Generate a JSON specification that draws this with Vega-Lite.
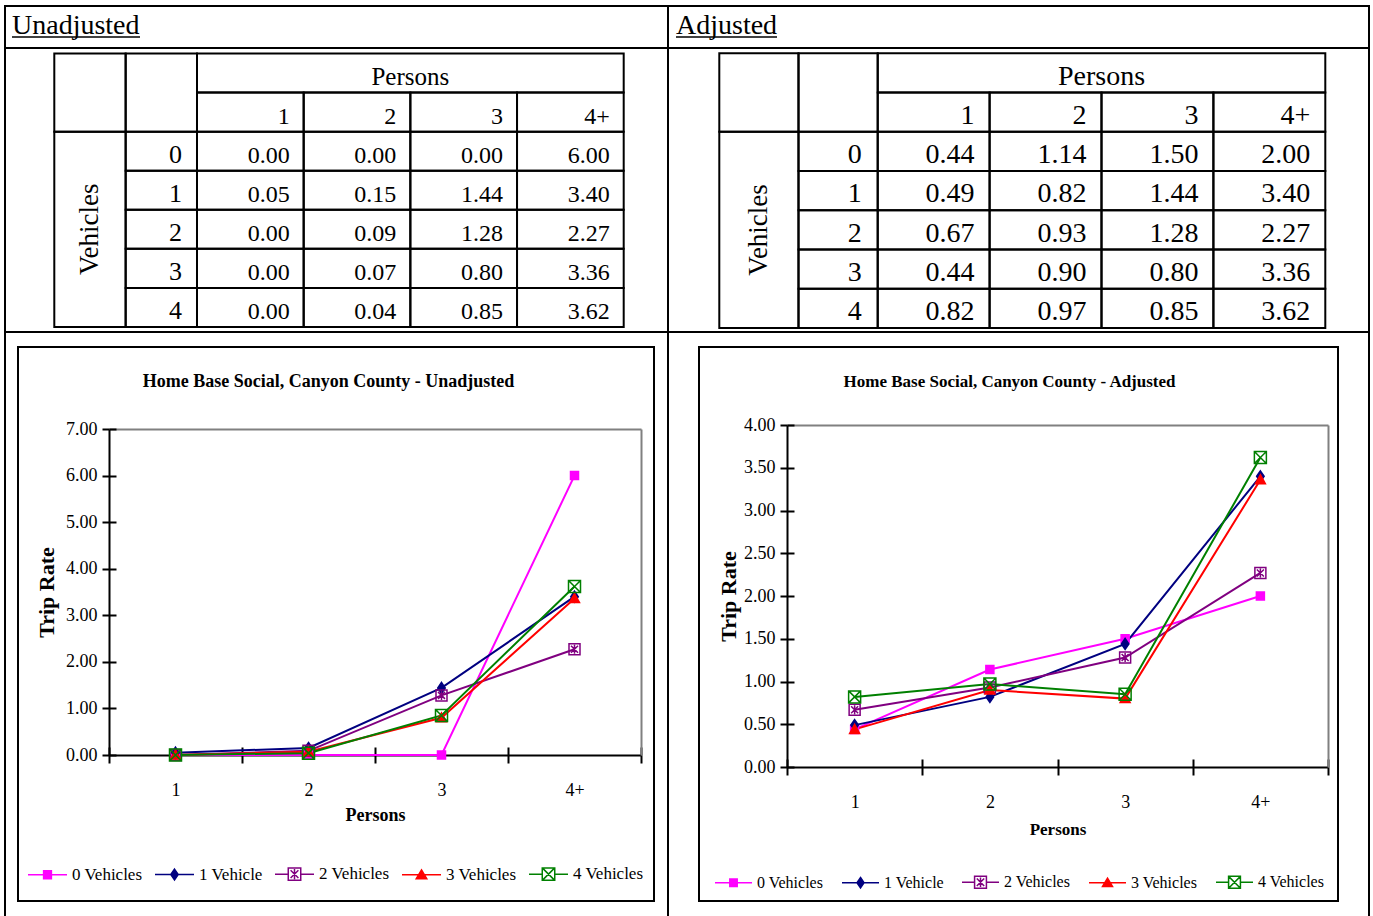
{
  "$schema": "https://vega.github.io/schema/vega-lite/v6.json",
  "padding": {"left": 4, "top": 5, "right": 0, "bottom": 0},
  "background": "white",
  "config": {
    "font": "Liberation Serif",
    "view": {"stroke": null},
    "axis": {"grid": false, "labelColor": "black", "titleColor": "black", "labelFont": "Liberation Serif", "titleFont": "Liberation Serif"},
    "legend": {"labelColor": "black", "labelFont": "Liberation Serif"},
    "title": {"color": "black", "font": "Liberation Serif"}
  },
  "datasets": {
    "rates": [
      {"table": "Unadjusted", "vehicles": "0", "series": "0 Vehicles", "persons": "1", "rate": 0.00},
      {"table": "Unadjusted", "vehicles": "0", "series": "0 Vehicles", "persons": "2", "rate": 0.00},
      {"table": "Unadjusted", "vehicles": "0", "series": "0 Vehicles", "persons": "3", "rate": 0.00},
      {"table": "Unadjusted", "vehicles": "0", "series": "0 Vehicles", "persons": "4+", "rate": 6.00},
      {"table": "Unadjusted", "vehicles": "1", "series": "1 Vehicle", "persons": "1", "rate": 0.05},
      {"table": "Unadjusted", "vehicles": "1", "series": "1 Vehicle", "persons": "2", "rate": 0.15},
      {"table": "Unadjusted", "vehicles": "1", "series": "1 Vehicle", "persons": "3", "rate": 1.44},
      {"table": "Unadjusted", "vehicles": "1", "series": "1 Vehicle", "persons": "4+", "rate": 3.40},
      {"table": "Unadjusted", "vehicles": "2", "series": "2 Vehicles", "persons": "1", "rate": 0.00},
      {"table": "Unadjusted", "vehicles": "2", "series": "2 Vehicles", "persons": "2", "rate": 0.09},
      {"table": "Unadjusted", "vehicles": "2", "series": "2 Vehicles", "persons": "3", "rate": 1.28},
      {"table": "Unadjusted", "vehicles": "2", "series": "2 Vehicles", "persons": "4+", "rate": 2.27},
      {"table": "Unadjusted", "vehicles": "3", "series": "3 Vehicles", "persons": "1", "rate": 0.00},
      {"table": "Unadjusted", "vehicles": "3", "series": "3 Vehicles", "persons": "2", "rate": 0.07},
      {"table": "Unadjusted", "vehicles": "3", "series": "3 Vehicles", "persons": "3", "rate": 0.80},
      {"table": "Unadjusted", "vehicles": "3", "series": "3 Vehicles", "persons": "4+", "rate": 3.36},
      {"table": "Unadjusted", "vehicles": "4", "series": "4 Vehicles", "persons": "1", "rate": 0.00},
      {"table": "Unadjusted", "vehicles": "4", "series": "4 Vehicles", "persons": "2", "rate": 0.04},
      {"table": "Unadjusted", "vehicles": "4", "series": "4 Vehicles", "persons": "3", "rate": 0.85},
      {"table": "Unadjusted", "vehicles": "4", "series": "4 Vehicles", "persons": "4+", "rate": 3.62},
      {"table": "Adjusted", "vehicles": "0", "series": "0 Vehicles", "persons": "1", "rate": 0.44},
      {"table": "Adjusted", "vehicles": "0", "series": "0 Vehicles", "persons": "2", "rate": 1.14},
      {"table": "Adjusted", "vehicles": "0", "series": "0 Vehicles", "persons": "3", "rate": 1.50},
      {"table": "Adjusted", "vehicles": "0", "series": "0 Vehicles", "persons": "4+", "rate": 2.00},
      {"table": "Adjusted", "vehicles": "1", "series": "1 Vehicle", "persons": "1", "rate": 0.49},
      {"table": "Adjusted", "vehicles": "1", "series": "1 Vehicle", "persons": "2", "rate": 0.82},
      {"table": "Adjusted", "vehicles": "1", "series": "1 Vehicle", "persons": "3", "rate": 1.44},
      {"table": "Adjusted", "vehicles": "1", "series": "1 Vehicle", "persons": "4+", "rate": 3.40},
      {"table": "Adjusted", "vehicles": "2", "series": "2 Vehicles", "persons": "1", "rate": 0.67},
      {"table": "Adjusted", "vehicles": "2", "series": "2 Vehicles", "persons": "2", "rate": 0.93},
      {"table": "Adjusted", "vehicles": "2", "series": "2 Vehicles", "persons": "3", "rate": 1.28},
      {"table": "Adjusted", "vehicles": "2", "series": "2 Vehicles", "persons": "4+", "rate": 2.27},
      {"table": "Adjusted", "vehicles": "3", "series": "3 Vehicles", "persons": "1", "rate": 0.44},
      {"table": "Adjusted", "vehicles": "3", "series": "3 Vehicles", "persons": "2", "rate": 0.90},
      {"table": "Adjusted", "vehicles": "3", "series": "3 Vehicles", "persons": "3", "rate": 0.80},
      {"table": "Adjusted", "vehicles": "3", "series": "3 Vehicles", "persons": "4+", "rate": 3.36},
      {"table": "Adjusted", "vehicles": "4", "series": "4 Vehicles", "persons": "1", "rate": 0.82},
      {"table": "Adjusted", "vehicles": "4", "series": "4 Vehicles", "persons": "2", "rate": 0.97},
      {"table": "Adjusted", "vehicles": "4", "series": "4 Vehicles", "persons": "3", "rate": 0.85},
      {"table": "Adjusted", "vehicles": "4", "series": "4 Vehicles", "persons": "4+", "rate": 3.62}
    ],
    "persons": [{"persons": "1"}, {"persons": "2"}, {"persons": "3"}, {"persons": "4+"}],
    "vehicles": [{"vehicles": "0"}, {"vehicles": "1"}, {"vehicles": "2"}, {"vehicles": "3"}, {"vehicles": "4"}]
  },
  "columns": 2,
  "spacing": 0,
  "bounds": "flush",
  "align": "each",
  "concat": [
    {
      "width": 663, "height": 42,
      "view": {"stroke": "black", "strokeWidth": 2},
      "data": {"values": [{"label": "Unadjusted"}]},
      "layer": [
        {"mark": {"type": "text", "align": "left", "baseline": "alphabetic", "fontSize": 28, "dy": -3},
         "encoding": {
           "x": {"field": "label", "type": "nominal", "bandPosition": 0, "axis": null, "scale": {"range": [7, 135], "paddingInner": 0, "paddingOuter": 0}},
           "y": {"field": "label", "type": "nominal", "bandPosition": 1, "axis": null, "scale": {"range": [5, 31], "paddingInner": 0, "paddingOuter": 0}},
           "text": {"field": "label", "type": "nominal"}}},
        {"mark": {"type": "rule", "color": "black", "strokeWidth": 1.5},
         "encoding": {
           "x": {"field": "label", "type": "nominal", "bandPosition": 0, "axis": null, "scale": {"range": [7, 135], "paddingInner": 0, "paddingOuter": 0}},
           "x2": {"field": "label", "bandPosition": 1},
           "y": {"field": "label", "type": "nominal", "bandPosition": 1, "axis": null, "scale": {"range": [5, 31], "paddingInner": 0, "paddingOuter": 0}}}}
      ]
    },
    {
      "width": 701, "height": 42,
      "view": {"stroke": "black", "strokeWidth": 2},
      "data": {"values": [{"label": "Adjusted"}]},
      "layer": [
        {"mark": {"type": "text", "align": "left", "baseline": "alphabetic", "fontSize": 28, "dy": -3},
         "encoding": {
           "x": {"field": "label", "type": "nominal", "bandPosition": 0, "axis": null, "scale": {"range": [8, 109], "paddingInner": 0, "paddingOuter": 0}},
           "y": {"field": "label", "type": "nominal", "bandPosition": 1, "axis": null, "scale": {"range": [5, 31], "paddingInner": 0, "paddingOuter": 0}},
           "text": {"field": "label", "type": "nominal"}}},
        {"mark": {"type": "rule", "color": "black", "strokeWidth": 1.5},
         "encoding": {
           "x": {"field": "label", "type": "nominal", "bandPosition": 0, "axis": null, "scale": {"range": [8, 109], "paddingInner": 0, "paddingOuter": 0}},
           "x2": {"field": "label", "bandPosition": 1},
           "y": {"field": "label", "type": "nominal", "bandPosition": 1, "axis": null, "scale": {"range": [5, 31], "paddingInner": 0, "paddingOuter": 0}}}}
      ]
    },
    {
      "width": 663, "height": 284,
      "view": {"stroke": "black", "strokeWidth": 2},
      "resolve": {"scale": {"x": "independent"}},
      "layer": [
        {"layer": [
          {"data": {"name": "rates"}, "transform": [{"filter": "datum.table === 'Unadjusted'"}],
           "mark": {"type": "rect", "fill": "transparent", "stroke": "black", "strokeWidth": 2},
           "encoding": {
             "x": {"field": "persons", "type": "nominal", "axis": null, "scale": {"domain": ["1", "2", "3", "4+"], "range": [192, 618.7], "paddingInner": 0, "paddingOuter": 0}},
             "y": {"field": "vehicles", "type": "nominal", "axis": null, "scale": {"domain": ["hdr1", "hdr2", "0", "1", "2", "3", "4"], "range": [5.5, 279], "paddingInner": 0, "paddingOuter": 0}}}},
          {"data": {"name": "rates"}, "transform": [{"filter": "datum.table === 'Unadjusted'"}],
           "mark": {"type": "text", "align": "right", "baseline": "alphabetic", "dx": -14, "dy": -8, "fontSize": 24},
           "encoding": {
             "x": {"field": "persons", "type": "nominal", "bandPosition": 1, "axis": null, "scale": {"domain": ["1", "2", "3", "4+"], "range": [192, 618.7], "paddingInner": 0, "paddingOuter": 0}},
             "y": {"field": "vehicles", "type": "nominal", "bandPosition": 1, "axis": null, "scale": {"domain": ["hdr1", "hdr2", "0", "1", "2", "3", "4"], "range": [5.5, 279], "paddingInner": 0, "paddingOuter": 0}},
             "text": {"field": "rate", "type": "quantitative", "format": ".2f"}}},
          {"data": {"name": "persons"},
           "mark": {"type": "rect", "fill": "transparent", "stroke": "black", "strokeWidth": 2},
           "encoding": {
             "x": {"field": "persons", "type": "nominal", "axis": null, "scale": {"domain": ["1", "2", "3", "4+"], "range": [192, 618.7], "paddingInner": 0, "paddingOuter": 0}},
             "y": {"datum": "hdr2", "type": "nominal", "axis": null, "scale": {"domain": ["hdr1", "hdr2", "0", "1", "2", "3", "4"], "range": [5.5, 279], "paddingInner": 0, "paddingOuter": 0}}}},
          {"data": {"name": "persons"},
           "mark": {"type": "text", "align": "right", "baseline": "alphabetic", "dx": -14, "dy": -8, "fontSize": 24},
           "encoding": {
             "x": {"field": "persons", "type": "nominal", "bandPosition": 1, "axis": null, "scale": {"domain": ["1", "2", "3", "4+"], "range": [192, 618.7], "paddingInner": 0, "paddingOuter": 0}},
             "y": {"datum": "hdr2", "type": "nominal", "bandPosition": 1, "axis": null, "scale": {"domain": ["hdr1", "hdr2", "0", "1", "2", "3", "4"], "range": [5.5, 279], "paddingInner": 0, "paddingOuter": 0}},
             "text": {"field": "persons", "type": "nominal"}}},
          {"data": {"values": [{"label": "Persons"}]},
           "mark": {"type": "rect", "fill": "transparent", "stroke": "black", "strokeWidth": 2},
           "encoding": {
             "x": {"datum": "1", "type": "nominal", "bandPosition": 0, "axis": null, "scale": {"domain": ["1", "2", "3", "4+"], "range": [192, 618.7], "paddingInner": 0, "paddingOuter": 0}},
             "x2": {"datum": "4+", "bandPosition": 1},
             "y": {"datum": "hdr1", "type": "nominal", "axis": null, "scale": {"domain": ["hdr1", "hdr2", "0", "1", "2", "3", "4"], "range": [5.5, 279], "paddingInner": 0, "paddingOuter": 0}}}},
          {"data": {"values": [{"label": "Persons"}]},
           "mark": {"type": "text", "align": "center", "baseline": "alphabetic", "dy": -8, "fontSize": 25},
           "encoding": {
             "x": {"datum": "2", "type": "nominal", "bandPosition": 1, "axis": null, "scale": {"domain": ["1", "2", "3", "4+"], "range": [192, 618.7], "paddingInner": 0, "paddingOuter": 0}},
             "y": {"datum": "hdr1", "type": "nominal", "bandPosition": 1, "axis": null, "scale": {"domain": ["hdr1", "hdr2", "0", "1", "2", "3", "4"], "range": [5.5, 279], "paddingInner": 0, "paddingOuter": 0}},
             "text": {"field": "label", "type": "nominal"}}}
        ]},
        {"layer": [
          {"data": {"values": [{"col": "lab"}, {"col": "num"}]},
           "mark": {"type": "rect", "fill": "transparent", "stroke": "black", "strokeWidth": 2},
           "encoding": {
             "x": {"field": "col", "type": "nominal", "axis": null, "scale": {"domain": ["lab", "num"], "range": [49.3, 192], "paddingInner": 0, "paddingOuter": 0}},
             "y": {"datum": "hdr1", "type": "nominal", "bandPosition": 0, "axis": null, "scale": {"domain": ["hdr1", "hdr2", "0", "1", "2", "3", "4"], "range": [5.5, 279], "paddingInner": 0, "paddingOuter": 0}},
             "y2": {"datum": "hdr2", "bandPosition": 1}}},
          {"data": {"values": [{"label": "Vehicles"}]},
           "mark": {"type": "rect", "fill": "transparent", "stroke": "black", "strokeWidth": 2},
           "encoding": {
             "x": {"datum": "lab", "type": "nominal", "axis": null, "scale": {"domain": ["lab", "num"], "range": [49.3, 192], "paddingInner": 0, "paddingOuter": 0}},
             "y": {"datum": "0", "type": "nominal", "bandPosition": 0, "axis": null, "scale": {"domain": ["hdr1", "hdr2", "0", "1", "2", "3", "4"], "range": [5.5, 279], "paddingInner": 0, "paddingOuter": 0}},
             "y2": {"datum": "4", "bandPosition": 1}}},
          {"data": {"values": [{"label": "Vehicles"}]},
           "mark": {"type": "text", "angle": 270, "align": "center", "baseline": "middle", "fontSize": 27},
           "encoding": {
             "x": {"datum": "lab", "type": "nominal", "bandPosition": 0.5, "axis": null, "scale": {"domain": ["lab", "num"], "range": [49.3, 192], "paddingInner": 0, "paddingOuter": 0}},
             "y": {"datum": "2", "type": "nominal", "bandPosition": 0.5, "axis": null, "scale": {"domain": ["hdr1", "hdr2", "0", "1", "2", "3", "4"], "range": [5.5, 279], "paddingInner": 0, "paddingOuter": 0}},
             "text": {"field": "label", "type": "nominal"}}},
          {"data": {"name": "vehicles"},
           "mark": {"type": "rect", "fill": "transparent", "stroke": "black", "strokeWidth": 2},
           "encoding": {
             "x": {"datum": "num", "type": "nominal", "axis": null, "scale": {"domain": ["lab", "num"], "range": [49.3, 192], "paddingInner": 0, "paddingOuter": 0}},
             "y": {"field": "vehicles", "type": "nominal", "axis": null, "scale": {"domain": ["hdr1", "hdr2", "0", "1", "2", "3", "4"], "range": [5.5, 279], "paddingInner": 0, "paddingOuter": 0}}}},
          {"data": {"name": "vehicles"},
           "mark": {"type": "text", "align": "right", "baseline": "alphabetic", "dx": -15, "dy": -8, "fontSize": 26},
           "encoding": {
             "x": {"datum": "num", "type": "nominal", "bandPosition": 1, "axis": null, "scale": {"domain": ["lab", "num"], "range": [49.3, 192], "paddingInner": 0, "paddingOuter": 0}},
             "y": {"field": "vehicles", "type": "nominal", "bandPosition": 1, "axis": null, "scale": {"domain": ["hdr1", "hdr2", "0", "1", "2", "3", "4"], "range": [5.5, 279], "paddingInner": 0, "paddingOuter": 0}},
             "text": {"field": "vehicles", "type": "nominal"}}}
        ]}
      ]
    },
    {
      "width": 701, "height": 284,
      "view": {"stroke": "black", "strokeWidth": 2},
      "resolve": {"scale": {"x": "independent"}},
      "layer": [
        {"layer": [
          {"data": {"name": "rates"}, "transform": [{"filter": "datum.table === 'Adjusted'"}],
           "mark": {"type": "rect", "fill": "transparent", "stroke": "black", "strokeWidth": 2},
           "encoding": {
             "x": {"field": "persons", "type": "nominal", "axis": null, "scale": {"domain": ["1", "2", "3", "4+"], "range": [209.7, 657.3], "paddingInner": 0, "paddingOuter": 0}},
             "y": {"field": "vehicles", "type": "nominal", "axis": null, "scale": {"domain": ["hdr1", "hdr2", "0", "1", "2", "3", "4"], "range": [5.3, 280], "paddingInner": 0, "paddingOuter": 0}}}},
          {"data": {"name": "rates"}, "transform": [{"filter": "datum.table === 'Adjusted'"}],
           "mark": {"type": "text", "align": "right", "baseline": "alphabetic", "dx": -15, "dy": -8, "fontSize": 28},
           "encoding": {
             "x": {"field": "persons", "type": "nominal", "bandPosition": 1, "axis": null, "scale": {"domain": ["1", "2", "3", "4+"], "range": [209.7, 657.3], "paddingInner": 0, "paddingOuter": 0}},
             "y": {"field": "vehicles", "type": "nominal", "bandPosition": 1, "axis": null, "scale": {"domain": ["hdr1", "hdr2", "0", "1", "2", "3", "4"], "range": [5.3, 280], "paddingInner": 0, "paddingOuter": 0}},
             "text": {"field": "rate", "type": "quantitative", "format": ".2f"}}},
          {"data": {"name": "persons"},
           "mark": {"type": "rect", "fill": "transparent", "stroke": "black", "strokeWidth": 2},
           "encoding": {
             "x": {"field": "persons", "type": "nominal", "axis": null, "scale": {"domain": ["1", "2", "3", "4+"], "range": [209.7, 657.3], "paddingInner": 0, "paddingOuter": 0}},
             "y": {"datum": "hdr2", "type": "nominal", "axis": null, "scale": {"domain": ["hdr1", "hdr2", "0", "1", "2", "3", "4"], "range": [5.3, 280], "paddingInner": 0, "paddingOuter": 0}}}},
          {"data": {"name": "persons"},
           "mark": {"type": "text", "align": "right", "baseline": "alphabetic", "dx": -15, "dy": -8, "fontSize": 28},
           "encoding": {
             "x": {"field": "persons", "type": "nominal", "bandPosition": 1, "axis": null, "scale": {"domain": ["1", "2", "3", "4+"], "range": [209.7, 657.3], "paddingInner": 0, "paddingOuter": 0}},
             "y": {"datum": "hdr2", "type": "nominal", "bandPosition": 1, "axis": null, "scale": {"domain": ["hdr1", "hdr2", "0", "1", "2", "3", "4"], "range": [5.3, 280], "paddingInner": 0, "paddingOuter": 0}},
             "text": {"field": "persons", "type": "nominal"}}},
          {"data": {"values": [{"label": "Persons"}]},
           "mark": {"type": "rect", "fill": "transparent", "stroke": "black", "strokeWidth": 2},
           "encoding": {
             "x": {"datum": "1", "type": "nominal", "bandPosition": 0, "axis": null, "scale": {"domain": ["1", "2", "3", "4+"], "range": [209.7, 657.3], "paddingInner": 0, "paddingOuter": 0}},
             "x2": {"datum": "4+", "bandPosition": 1},
             "y": {"datum": "hdr1", "type": "nominal", "axis": null, "scale": {"domain": ["hdr1", "hdr2", "0", "1", "2", "3", "4"], "range": [5.3, 280], "paddingInner": 0, "paddingOuter": 0}}}},
          {"data": {"values": [{"label": "Persons"}]},
           "mark": {"type": "text", "align": "center", "baseline": "alphabetic", "dy": -8, "fontSize": 28},
           "encoding": {
             "x": {"datum": "2", "type": "nominal", "bandPosition": 1, "axis": null, "scale": {"domain": ["1", "2", "3", "4+"], "range": [209.7, 657.3], "paddingInner": 0, "paddingOuter": 0}},
             "y": {"datum": "hdr1", "type": "nominal", "bandPosition": 1, "axis": null, "scale": {"domain": ["hdr1", "hdr2", "0", "1", "2", "3", "4"], "range": [5.3, 280], "paddingInner": 0, "paddingOuter": 0}},
             "text": {"field": "label", "type": "nominal"}}}
        ]},
        {"layer": [
          {"data": {"values": [{"col": "lab"}, {"col": "num"}]},
           "mark": {"type": "rect", "fill": "transparent", "stroke": "black", "strokeWidth": 2},
           "encoding": {
             "x": {"field": "col", "type": "nominal", "axis": null, "scale": {"domain": ["lab", "num"], "range": [51.3, 209.7], "paddingInner": 0, "paddingOuter": 0}},
             "y": {"datum": "hdr1", "type": "nominal", "bandPosition": 0, "axis": null, "scale": {"domain": ["hdr1", "hdr2", "0", "1", "2", "3", "4"], "range": [5.3, 280], "paddingInner": 0, "paddingOuter": 0}},
             "y2": {"datum": "hdr2", "bandPosition": 1}}},
          {"data": {"values": [{"label": "Vehicles"}]},
           "mark": {"type": "rect", "fill": "transparent", "stroke": "black", "strokeWidth": 2},
           "encoding": {
             "x": {"datum": "lab", "type": "nominal", "axis": null, "scale": {"domain": ["lab", "num"], "range": [51.3, 209.7], "paddingInner": 0, "paddingOuter": 0}},
             "y": {"datum": "0", "type": "nominal", "bandPosition": 0, "axis": null, "scale": {"domain": ["hdr1", "hdr2", "0", "1", "2", "3", "4"], "range": [5.3, 280], "paddingInner": 0, "paddingOuter": 0}},
             "y2": {"datum": "4", "bandPosition": 1}}},
          {"data": {"values": [{"label": "Vehicles"}]},
           "mark": {"type": "text", "angle": 270, "align": "center", "baseline": "middle", "fontSize": 27},
           "encoding": {
             "x": {"datum": "lab", "type": "nominal", "bandPosition": 0.5, "axis": null, "scale": {"domain": ["lab", "num"], "range": [51.3, 209.7], "paddingInner": 0, "paddingOuter": 0}},
             "y": {"datum": "2", "type": "nominal", "bandPosition": 0.5, "axis": null, "scale": {"domain": ["hdr1", "hdr2", "0", "1", "2", "3", "4"], "range": [5.3, 280], "paddingInner": 0, "paddingOuter": 0}},
             "text": {"field": "label", "type": "nominal"}}},
          {"data": {"name": "vehicles"},
           "mark": {"type": "rect", "fill": "transparent", "stroke": "black", "strokeWidth": 2},
           "encoding": {
             "x": {"datum": "num", "type": "nominal", "axis": null, "scale": {"domain": ["lab", "num"], "range": [51.3, 209.7], "paddingInner": 0, "paddingOuter": 0}},
             "y": {"field": "vehicles", "type": "nominal", "axis": null, "scale": {"domain": ["hdr1", "hdr2", "0", "1", "2", "3", "4"], "range": [5.3, 280], "paddingInner": 0, "paddingOuter": 0}}}},
          {"data": {"name": "vehicles"},
           "mark": {"type": "text", "align": "right", "baseline": "alphabetic", "dx": -16, "dy": -8, "fontSize": 28},
           "encoding": {
             "x": {"datum": "num", "type": "nominal", "bandPosition": 1, "axis": null, "scale": {"domain": ["lab", "num"], "range": [51.3, 209.7], "paddingInner": 0, "paddingOuter": 0}},
             "y": {"field": "vehicles", "type": "nominal", "bandPosition": 1, "axis": null, "scale": {"domain": ["hdr1", "hdr2", "0", "1", "2", "3", "4"], "range": [5.3, 280], "paddingInner": 0, "paddingOuter": 0}},
             "text": {"field": "vehicles", "type": "nominal"}}}
        ]}
      ]
    },
    {
      "width": 663, "height": 585,
      "view": {"stroke": "black", "strokeWidth": 2},
      "title": {"text": "Home Base Social, Canyon County - Unadjusted", "frame": "group", "anchor": "middle", "orient": "top", "offset": -73, "dx": -8, "fontSize": 18, "fontWeight": "bold", "baseline": "alphabetic"},
      "resolve": {"scale": {"x": "independent", "y": "independent"}},
      "layer": [
        {"data": {"values": [{"part": "frame"}]},
         "mark": {"type": "rect", "fill": "transparent", "stroke": "black", "strokeWidth": 2},
         "encoding": {
           "x": {"field": "part", "type": "nominal", "axis": null, "scale": {"domain": ["frame"], "range": [13, 649], "paddingInner": 0, "paddingOuter": 0}},
           "y": {"field": "part", "type": "nominal", "axis": null, "scale": {"domain": ["frame"], "range": [15, 569], "paddingInner": 0, "paddingOuter": 0}}}},
        {"data": {"name": "rates"},
         "transform": [{"filter": "datum.table === 'Unadjusted'"}],
         "resolve": {"scale": {"fill": "independent", "stroke": "independent", "shape": "independent"}, "axis": {"x": "independent", "y": "independent"}},
         "layer": [
           {"mark": {"type": "line", "strokeWidth": 2},
            "encoding": {
              "x": {"field": "persons", "type": "nominal", "scale": {"domain": ["1", "2", "3", "4+"], "range": [104, 636], "paddingInner": 0, "paddingOuter": 0},
                    "axis": {"orient": "bottom", "offset": -162, "tickBand": "extent", "domainColor": "black", "domainWidth": 2, "tickColor": "black", "tickWidth": 2, "tickSize": 8, "labelAngle": 0, "labelFontSize": 18, "labelPadding": 18, "title": "Persons", "titleFontSize": 18, "titleFontWeight": "bold", "titlePadding": 7}},
              "y": {"field": "rate", "type": "quantitative", "scale": {"domain": [0, 7], "range": [423, 97], "nice": false, "zero": false},
                    "axis": {"orient": "left", "offset": -104, "values": [0, 1, 2, 3, 4, 5, 6, 7], "format": ".2f", "domainColor": "black", "domainWidth": 2, "tickColor": "black", "tickWidth": 2, "tickSize": 7, "labelFontSize": 18, "labelPadding": 5, "title": "Trip Rate", "titleFontSize": 22, "titleFontWeight": "bold", "titlePadding": 7}},
              "color": {"field": "series", "type": "nominal", "legend": null, "scale": {"domain": ["0 Vehicles", "1 Vehicle", "2 Vehicles", "3 Vehicles", "4 Vehicles"], "range": ["#ff00ff", "#000080", "#800080", "#ff0000", "#008000"]}}}},
           {"mark": {"type": "point", "size": 100, "strokeWidth": 1.5, "opacity": 1},
            "encoding": {
              "x": {"field": "persons", "type": "nominal", "scale": {"domain": ["1", "2", "3", "4+"], "range": [104, 636], "paddingInner": 0, "paddingOuter": 0},
                    "axis": {"orient": "bottom", "offset": -162, "tickBand": "extent", "domain": false, "labels": false, "tickColor": "black", "tickWidth": 2, "tickSize": -8, "title": null}},
              "y": {"field": "rate", "type": "quantitative", "scale": {"domain": [0, 7], "range": [423, 97], "nice": false, "zero": false},
                    "axis": {"orient": "left", "offset": -104, "values": [0, 1, 2, 3, 4, 5, 6, 7], "domain": false, "labels": false, "tickColor": "black", "tickWidth": 2, "tickSize": -7, "title": null}},
              "fill": {"field": "series", "type": "nominal", "legend": null, "scale": {"domain": ["0 Vehicles", "1 Vehicle", "2 Vehicles", "3 Vehicles", "4 Vehicles"], "range": ["#ff00ff", "#000080", "transparent", "#ff0000", "transparent"]}},
              "stroke": {"field": "series", "type": "nominal", "legend": null, "scale": {"domain": ["0 Vehicles", "1 Vehicle", "2 Vehicles", "3 Vehicles", "4 Vehicles"], "range": ["#ff00ff", "#000080", "#800080", "#ff0000", "#008000"]}},
              "shape": {"field": "series", "type": "nominal", "legend": null, "scale": {"domain": ["0 Vehicles", "1 Vehicle", "2 Vehicles", "3 Vehicles", "4 Vehicles"], "range": ["M-0.8,-0.8H0.8V0.8H-0.8Z", "M0,-1.1L0.75,0L0,1.1L-0.75,0Z", "M-1.1,-1.1H1.1V1.1H-1.1ZM-0.7,-0.7L0.7,0.7M-0.7,0.7L0.7,-0.7M0,-0.9V0.9", "M0,-1L1,0.8H-1Z", "M-1.2,-1.2H1.2V1.2H-1.2ZM-1.2,-1.2L1.2,1.2M-1.2,1.2L1.2,-1.2"]}}}},
           {"transform": [{"filter": "false"}],
            "mark": {"type": "point", "size": 100, "strokeWidth": 1.5, "opacity": 1},
            "encoding": {
              "x": {"field": "persons", "type": "nominal", "scale": {"domain": ["1", "2", "3", "4+"], "range": [104, 636], "paddingInner": 0, "paddingOuter": 0},
                    "axis": {"orient": "top", "offset": -97, "domainColor": "#808080", "domainWidth": 2, "ticks": false, "labels": false, "title": null}},
              "y": {"field": "rate", "type": "quantitative", "scale": {"domain": [0, 7], "range": [423, 97], "nice": false, "zero": false},
                    "axis": {"orient": "right", "offset": -27, "domainColor": "#808080", "domainWidth": 2, "ticks": false, "labels": false, "title": null}},
              "fill": {"field": "series", "type": "nominal",
                       "scale": {"domain": ["0 Vehicles", "1 Vehicle", "2 Vehicles", "3 Vehicles", "4 Vehicles"], "range": ["#ff00ff", "#000080", "transparent", "#ff0000", "transparent"]},
                       "legend": {"orient": "none", "legendX": 22, "legendY": 521.5, "direction": "horizontal", "title": null, "labelFontSize": 17, "symbolSize": 1521, "symbolStrokeWidth": 1.5, "labelOffset": 4, "columnPadding": 9, "padding": 0}},
              "stroke": {"field": "series", "type": "nominal",
                       "scale": {"domain": ["0 Vehicles", "1 Vehicle", "2 Vehicles", "3 Vehicles", "4 Vehicles"], "range": ["#ff00ff", "#000080", "#800080", "#ff0000", "#008000"]},
                       "legend": {"orient": "none", "legendX": 22, "legendY": 521.5, "direction": "horizontal", "title": null, "labelFontSize": 17, "symbolSize": 1521, "symbolStrokeWidth": 1.5, "labelOffset": 4, "columnPadding": 9, "padding": 0}},
              "shape": {"field": "series", "type": "nominal",
                       "scale": {"domain": ["0 Vehicles", "1 Vehicle", "2 Vehicles", "3 Vehicles", "4 Vehicles"], "range": ["M-1,0H1M-0.2,-0.2H0.2V0.2H-0.2Z", "M-1,0H1M0,-0.28L0.19,0L0,0.28L-0.19,0Z", "M-1,0H-0.32M0.32,0H1M-0.32,-0.32H0.32V0.32H-0.32ZM-0.2,-0.2L0.2,0.2M-0.2,0.2L0.2,-0.2M0,-0.26V0.26", "M-1,0H1M0,-0.25L0.27,0.2H-0.27Z", "M-1,0H-0.32M0.32,0H1M-0.32,-0.32H0.32V0.32H-0.32ZM-0.32,-0.32L0.32,0.32M-0.32,0.32L0.32,-0.32"]},
                       "legend": {"orient": "none", "legendX": 22, "legendY": 521.5, "direction": "horizontal", "title": null, "labelFontSize": 17, "symbolSize": 1521, "symbolStrokeWidth": 1.5, "labelOffset": 4, "columnPadding": 9, "padding": 0}}}}
         ]}
      ]
    },
    {
      "width": 701, "height": 585,
      "view": {"stroke": "black", "strokeWidth": 2},
      "title": {"text": "Home Base Social, Canyon County - Adjusted", "frame": "group", "anchor": "middle", "orient": "top", "offset": -72, "dx": -9, "fontSize": 17, "fontWeight": "bold", "baseline": "alphabetic"},
      "resolve": {"scale": {"x": "independent", "y": "independent"}},
      "layer": [
        {"data": {"values": [{"part": "frame"}]},
         "mark": {"type": "rect", "fill": "transparent", "stroke": "black", "strokeWidth": 2},
         "encoding": {
           "x": {"field": "part", "type": "nominal", "axis": null, "scale": {"domain": ["frame"], "range": [31, 670], "paddingInner": 0, "paddingOuter": 0}},
           "y": {"field": "part", "type": "nominal", "axis": null, "scale": {"domain": ["frame"], "range": [15, 569], "paddingInner": 0, "paddingOuter": 0}}}},
        {"data": {"name": "rates"},
         "transform": [{"filter": "datum.table === 'Adjusted'"}],
         "resolve": {"scale": {"fill": "independent", "stroke": "independent", "shape": "independent"}, "axis": {"x": "independent", "y": "independent"}},
         "layer": [
           {"mark": {"type": "line", "strokeWidth": 2},
            "encoding": {
              "x": {"field": "persons", "type": "nominal", "scale": {"domain": ["1", "2", "3", "4+"], "range": [119, 660], "paddingInner": 0, "paddingOuter": 0},
                    "axis": {"orient": "bottom", "offset": -150, "tickBand": "extent", "domainColor": "black", "domainWidth": 2, "tickColor": "black", "tickWidth": 2, "tickSize": 8, "labelAngle": 0, "labelFontSize": 18, "labelPadding": 18, "title": "Persons", "titleFontSize": 17, "titleFontWeight": "bold", "titlePadding": 10}},
              "y": {"field": "rate", "type": "quantitative", "scale": {"domain": [0, 4], "range": [435, 93], "nice": false, "zero": false},
                    "axis": {"orient": "left", "offset": -119, "values": [0, 0.5, 1, 1.5, 2, 2.5, 3, 3.5, 4], "format": ".2f", "domainColor": "black", "domainWidth": 2, "tickColor": "black", "tickWidth": 2, "tickSize": 7, "labelFontSize": 18, "labelPadding": 5, "title": "Trip Rate", "titleFontSize": 22, "titleFontWeight": "bold", "titlePadding": 3}},
              "color": {"field": "series", "type": "nominal", "legend": null, "scale": {"domain": ["0 Vehicles", "1 Vehicle", "2 Vehicles", "3 Vehicles", "4 Vehicles"], "range": ["#ff00ff", "#000080", "#800080", "#ff0000", "#008000"]}}}},
           {"mark": {"type": "point", "size": 100, "strokeWidth": 1.5, "opacity": 1},
            "encoding": {
              "x": {"field": "persons", "type": "nominal", "scale": {"domain": ["1", "2", "3", "4+"], "range": [119, 660], "paddingInner": 0, "paddingOuter": 0},
                    "axis": {"orient": "bottom", "offset": -150, "tickBand": "extent", "domain": false, "labels": false, "tickColor": "black", "tickWidth": 2, "tickSize": -8, "title": null}},
              "y": {"field": "rate", "type": "quantitative", "scale": {"domain": [0, 4], "range": [435, 93], "nice": false, "zero": false},
                    "axis": {"orient": "left", "offset": -119, "values": [0, 0.5, 1, 1.5, 2, 2.5, 3, 3.5, 4], "domain": false, "labels": false, "tickColor": "black", "tickWidth": 2, "tickSize": -7, "title": null}},
              "fill": {"field": "series", "type": "nominal", "legend": null, "scale": {"domain": ["0 Vehicles", "1 Vehicle", "2 Vehicles", "3 Vehicles", "4 Vehicles"], "range": ["#ff00ff", "#000080", "transparent", "#ff0000", "transparent"]}},
              "stroke": {"field": "series", "type": "nominal", "legend": null, "scale": {"domain": ["0 Vehicles", "1 Vehicle", "2 Vehicles", "3 Vehicles", "4 Vehicles"], "range": ["#ff00ff", "#000080", "#800080", "#ff0000", "#008000"]}},
              "shape": {"field": "series", "type": "nominal", "legend": null, "scale": {"domain": ["0 Vehicles", "1 Vehicle", "2 Vehicles", "3 Vehicles", "4 Vehicles"], "range": ["M-0.8,-0.8H0.8V0.8H-0.8Z", "M0,-1.1L0.75,0L0,1.1L-0.75,0Z", "M-1.1,-1.1H1.1V1.1H-1.1ZM-0.7,-0.7L0.7,0.7M-0.7,0.7L0.7,-0.7M0,-0.9V0.9", "M0,-1L1,0.8H-1Z", "M-1.2,-1.2H1.2V1.2H-1.2ZM-1.2,-1.2L1.2,1.2M-1.2,1.2L1.2,-1.2"]}}}},
           {"transform": [{"filter": "false"}],
            "mark": {"type": "point", "size": 100, "strokeWidth": 1.5, "opacity": 1},
            "encoding": {
              "x": {"field": "persons", "type": "nominal", "scale": {"domain": ["1", "2", "3", "4+"], "range": [119, 660], "paddingInner": 0, "paddingOuter": 0},
                    "axis": {"orient": "top", "offset": -93, "domainColor": "#808080", "domainWidth": 2, "ticks": false, "labels": false, "title": null}},
              "y": {"field": "rate", "type": "quantitative", "scale": {"domain": [0, 4], "range": [435, 93], "nice": false, "zero": false},
                    "axis": {"orient": "right", "offset": -41, "domainColor": "#808080", "domainWidth": 2, "ticks": false, "labels": false, "title": null}},
              "fill": {"field": "series", "type": "nominal",
                       "scale": {"domain": ["0 Vehicles", "1 Vehicle", "2 Vehicles", "3 Vehicles", "4 Vehicles"], "range": ["#ff00ff", "#000080", "transparent", "#ff0000", "transparent"]},
                       "legend": {"orient": "none", "legendX": 46, "legendY": 530.5, "direction": "horizontal", "title": null, "labelFontSize": 16, "symbolSize": 1369, "symbolStrokeWidth": 1.5, "labelOffset": 4, "columnPadding": 15, "padding": 0}},
              "stroke": {"field": "series", "type": "nominal",
                       "scale": {"domain": ["0 Vehicles", "1 Vehicle", "2 Vehicles", "3 Vehicles", "4 Vehicles"], "range": ["#ff00ff", "#000080", "#800080", "#ff0000", "#008000"]},
                       "legend": {"orient": "none", "legendX": 46, "legendY": 530.5, "direction": "horizontal", "title": null, "labelFontSize": 16, "symbolSize": 1369, "symbolStrokeWidth": 1.5, "labelOffset": 4, "columnPadding": 15, "padding": 0}},
              "shape": {"field": "series", "type": "nominal",
                       "scale": {"domain": ["0 Vehicles", "1 Vehicle", "2 Vehicles", "3 Vehicles", "4 Vehicles"], "range": ["M-1,0H1M-0.2,-0.2H0.2V0.2H-0.2Z", "M-1,0H1M0,-0.28L0.19,0L0,0.28L-0.19,0Z", "M-1,0H-0.32M0.32,0H1M-0.32,-0.32H0.32V0.32H-0.32ZM-0.2,-0.2L0.2,0.2M-0.2,0.2L0.2,-0.2M0,-0.26V0.26", "M-1,0H1M0,-0.25L0.27,0.2H-0.27Z", "M-1,0H-0.32M0.32,0H1M-0.32,-0.32H0.32V0.32H-0.32ZM-0.32,-0.32L0.32,0.32M-0.32,0.32L0.32,-0.32"]},
                       "legend": {"orient": "none", "legendX": 46, "legendY": 530.5, "direction": "horizontal", "title": null, "labelFontSize": 16, "symbolSize": 1369, "symbolStrokeWidth": 1.5, "labelOffset": 4, "columnPadding": 15, "padding": 0}}}}
         ]}
      ]
    }
  ]
}
